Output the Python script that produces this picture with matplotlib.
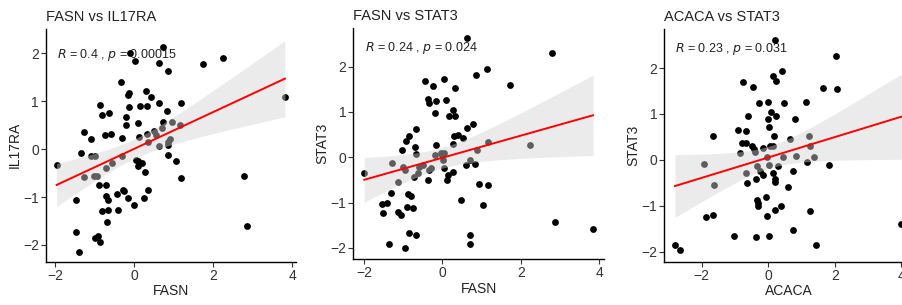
import numpy as np
import matplotlib
matplotlib.use("Agg")
import matplotlib.pyplot as plt

plt.rcParams['font.family'] = ['Liberation Sans', 'DejaVu Sans']

# ---------------- data ----------------
titles = ["FASN vs IL17RA", "FASN vs STAT3", "ACACA vs STAT3"]
xlabels = ["FASN", "FASN", "ACACA"]
ylabels = ["IL17RA", "STAT3", "STAT3"]
labels_r = ["0.4", "0.24", "0.23"]
labels_p = ["0.00015", "0.024", "0.031"]

p1_x = [-1.97, -1.49, -1.49, -1.40, -1.35, -1.27, -1.28, -1.11, -1.11, -1.01,
        -1.03, -0.95, -1.01, -0.93, -0.87, -0.90, -0.87, -0.81, -0.74, -0.73,
        -0.73, -0.83, -0.68, -0.70, -0.66, -0.64, -0.59, -0.72, -0.56, -0.42,
        -0.44, -0.35, -0.32, -0.32, -0.30, -0.26, -0.22, -0.22, -0.16, -0.14,
        -0.14, -0.17, -0.11, -0.01, 0.02, 0.04, 0.08, 0.08, 0.08, 0.11,
        0.15, 0.19, 0.30, 0.31, 0.27, 0.32, 0.34, 0.25, 0.34, 0.43,
        0.50, 0.54, 0.63, 0.61, 0.63, 0.70, 0.71, 0.73, 0.82, 0.84,
        0.86, 0.86, 0.89, 0.86, 0.95, 1.05, 1.16, 1.19, 1.18, 1.73,
        2.24, 2.78, 2.86, 3.81]
p1_y = [-0.34, -1.06, -1.72, -2.14, -0.07, 0.35, -0.58, 0.21, -0.15, -0.15,
        -0.57, -0.57, -1.86, -1.81, -1.94, -0.75, 0.93, 0.71, 0.30, -0.74,
        -0.97, -1.29, -1.06, -1.52, -1.28, 0.75, 0.32, -0.40, -0.28, -1.28,
        -0.94, 1.40, 0.24, -0.15, -0.85, -0.88, 0.67, 0.51, 1.13, 1.17,
        0.88, -1.02, 2.00, -1.16, 1.85, -0.22, -0.36, -0.24, 0.54, 0.25,
        0.90, -0.29, 1.22, 0.90, -0.48, 0.31, -0.86, -1.02, 0.16, 1.08,
        0.39, 0.30, 0.06, 1.80, 0.96, 0.44, 0.56, 2.14, 0.80, -0.13,
        1.63, 0.16, 0.21, 0.08, 0.57, -0.24, 0.51, 0.97, -0.61, 1.78,
        1.91, -0.57, -1.61, 1.10]

p2_x = [-1.99, -1.55, -1.42, -1.51, -1.29, -1.32, -1.37, -1.12, -1.06, -1.04,
        -1.12, -1.00, -0.94, -0.94, -0.93, -0.84, -0.89, -0.87, -0.81, -0.85,
        -0.74, -0.71, -0.68, -0.72, -0.66, -0.67, -0.59, -0.63, -0.44, -0.37,
        -0.34, -0.33, -0.36, -0.25, -0.20, -0.16, -0.16, -0.28, -0.19, 0.04,
        0.09, -0.04, 0.05, 0.04, 0.11, 0.14, 0.17, 0.26, 0.32, 0.32,
        0.30, 0.28, 0.41, 0.26, 0.53, 0.48, 0.62, 0.64, 0.60, 0.70,
        0.71, 0.71, 0.79, 0.85, 0.83, 0.88, 0.94, 1.03, 1.15, 1.17,
        1.17, 1.73, 2.24, 2.79, 2.88, 3.84, -0.49, 0.00, 0.02]
p2_y = [-0.35, -1.03, -1.00, -1.23, -0.12, -0.79, -1.92, -1.20, -1.27, 0.15,
        -0.54, -0.21, -0.29, -2.00, 0.35, 0.47, -1.09, -0.81, -0.85, -1.67,
        -1.12, 0.23, 0.07, -0.43, 0.62, -1.71, -0.21, -0.35, 1.68, 1.28,
        1.20, -0.28, -0.50, 1.58, 0.98, 1.23, 0.26, -0.24, 0.05, 1.72,
        1.26, 0.10, 0.09, -0.23, -0.50, -0.40, 0.90, 1.04, 0.90, 1.52,
        0.46, 0.29, 0.49, -0.32, 0.42, -0.94, 0.64, 2.64, -0.17, -0.06,
        -1.71, -1.92, 0.73, 1.81, -0.15, 0.16, -0.59, -1.05, 1.94, 0.34,
        -0.62, 1.59, 0.26, 2.29, -1.42, -1.59, -0.16, 0.06, -0.05]

p3_x = [-2.80, -2.65, -1.92, -1.88, -1.67, -1.67, -1.64, -1.02, -0.92, -0.84,
        -0.80, -0.75, -0.68, -0.67, -0.68, -0.65, -0.60, -0.47, -0.50, -0.43,
        -0.40, -0.38, -0.37, -0.35, -0.32, -0.30, -0.27, -0.33, -0.25, -0.15,
        -0.15, -0.08, -0.05, 0.00, 0.00, 0.03, 0.05, 0.03, -0.05, 0.03,
        0.08, 0.13, 0.13, 0.17, 0.15, 0.20, 0.20, 0.22, 0.25, 0.25,
        0.30, 0.20, 0.38, 0.43, 0.45, 0.48, 0.60, 0.67, 0.75, 0.75,
        0.80, 0.85, 1.15, 1.17, 1.23, 1.25, 1.27, 1.37, 1.43, 1.65,
        1.82, 2.05, 2.08, 4.00]
p3_y = [-1.86, -1.97, -0.09, -1.25, -1.20, 0.51, -0.54, -1.65, 0.64, 0.14,
        0.36, 1.69, 0.62, 0.36, -0.29, -0.51, 0.96, 1.59, 0.29, 0.23,
        0.18, -0.41, -1.68, -0.87, -0.94, -1.01, 1.23, -0.14, -0.25, 0.25,
        -0.33, -0.80, -1.23, 1.25, 0.89, 0.72, 0.29, -1.67, 0.07, -0.12,
        1.05, 0.29, 1.83, 0.51, -0.29, 2.62, -0.41, -1.09, 1.72, 0.96,
        -0.14, -0.49, -1.01, 1.93, 0.07, 1.23, -0.60, 0.45, -0.25, -1.54,
        0.88, 0.09, 1.25, -0.05, 0.51, 0.29, -1.11, 0.07, -1.86, 1.57,
        -0.11, 2.27, 1.54, -1.39]

xs = [p1_x, p2_x, p3_x]
ys = [p1_y, p2_y, p3_y]

# ---------------- layout ----------------
W, H = 903, 305
fig = plt.figure(figsize=(W / 100, H / 100), dpi=100)

positions = [
    [46 / W, (H - 261.7) / H, 250 / W, 232.7 / H],
    [353.3 / W, (H - 259.3) / H, 250.7 / W, 231.3 / H],
    [664.3 / W, (H - 261.7) / H, 248.7 / W, 232.7 / H],
]
xlims = [(-2.24, 4.09), (-2.27, 4.12), (-3.12, 4.35)]
ylims = [(-2.35, 2.51), (-2.25, 2.85), (-2.22, 2.85)]
label_pos = [(0.043, 0.888), (0.047, 0.912), (0.043, 0.913)]

txt_col = '#222222'
t_val = 1.99

for i in range(3):
    ax = fig.add_axes(positions[i])
    x = np.array(xs[i])
    y = np.array(ys[i])
    ax.scatter(x, y, s=24, color='black', zorder=2, linewidths=0)

    # linear fit with 95% confidence band
    n = len(x)
    slope, intercept = np.polyfit(x, y, 1)
    xg = np.linspace(x.min(), x.max(), 100)
    yg = intercept + slope * xg
    resid = y - (intercept + slope * x)
    s_err = np.sqrt(np.sum(resid ** 2) / (n - 2))
    se = s_err * np.sqrt(1 / n + (xg - x.mean()) ** 2 / np.sum((x - x.mean()) ** 2))
    ax.fill_between(xg, yg - t_val * se, yg + t_val * se,
                    color='#d3d3d3', alpha=0.45, linewidth=0, zorder=3)
    ax.plot(xg, yg, color='red', lw=1.4, zorder=4)

    ax.set_xlim(*xlims[i])
    ax.set_ylim(*ylims[i])
    ax.set_xticks([-2, 0, 2, 4])
    ax.set_yticks([-2, -1, 0, 1, 2])
    ax.set_xticklabels(['\u22122', '0', '2', '4'])
    ax.set_yticklabels(['\u22122', '\u22121', '0', '1', '2'])
    for sp in ['top', 'right']:
        ax.spines[sp].set_visible(False)
    for sp in ['left', 'bottom']:
        ax.spines[sp].set_linewidth(1.0)
        ax.spines[sp].set_color('black')
    ax.tick_params(direction='out', length=3.5, width=0.8, color='#333333',
                   labelsize=10, labelcolor='#333333', pad=1.5)

    ax.set_xlabel(xlabels[i], fontsize=10, color=txt_col, labelpad=1)
    ax.set_ylabel(ylabels[i], fontsize=10, color=txt_col, labelpad=1)
    ax.set_title(titles[i], fontsize=10.5, color=txt_col, loc='left', pad=6, x=0.0)

    lbl = r'$\it{R}$' + ' = ' + labels_r[i] + ' , ' + r'$\it{p}$' + ' = ' + labels_p[i]
    ax.text(label_pos[i][0], label_pos[i][1], lbl, transform=ax.transAxes,
            fontsize=9, color=txt_col, ha='left', va='center', zorder=1)

fig.savefig('out.png', dpi=100)
